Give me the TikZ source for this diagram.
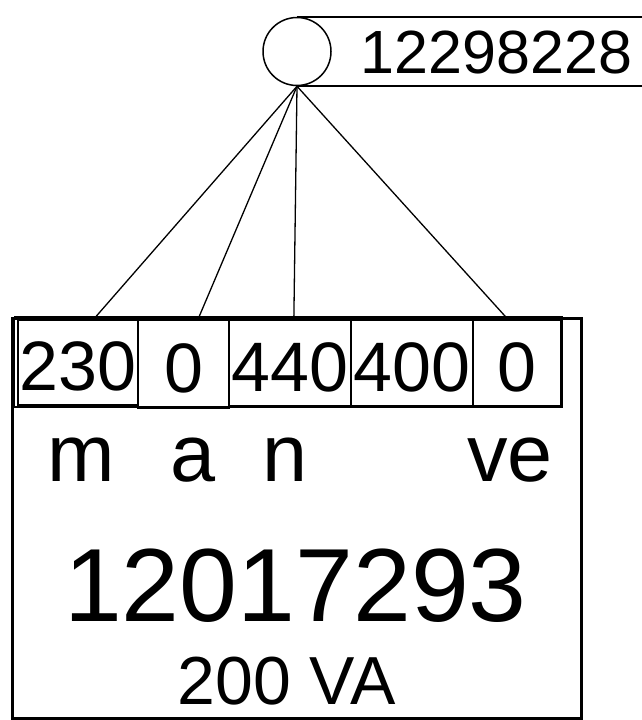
\documentclass[tikz,border=0pt]{standalone}
\usepackage{fontspec}
\setmainfont{Liberation Sans}
\newcommand{\fsz}[1]{\fontsize{#1}{#1}\selectfont}
\tikzset{
    cell/.style={draw, line width=2pt, anchor=north west, inner sep=0pt, text height=57pt, font=\fsz{70}},
    wire/.style={line width=1.3pt},
    tagbox/.style={draw, line width=1.3pt, anchor=west, minimum height=69pt, inner xsep=63pt, inner ysep=0pt, text height=45pt, font=\fsz{61}},
}
\begin{document}
\begin{tikzpicture}[x=1pt,y=-1pt]
        \useasboundingbox (0,0) rectangle (642,720);
        %% tag and hub
        \node[tagbox] (tag) at (297,51.5) {12298228};
        \node[draw, circle, fill=white, line width=1.5pt, minimum size=68pt, inner sep=0pt] (hub) at (297,51.5) {};
        %% unit box with its frame
        \node[draw, line width=3pt, anchor=north west, minimum width=569pt, minimum height=399.5pt, inner sep=0pt] (unit) at (10.5,317) {};
        \draw[line width=1.4pt] (14.5,317) rectangle (562,407);
        %% cells
        \foreach \name/\x/\w/\h/\val in {cell1/17/120pt/85pt/230, cell2/137/91pt/88pt/0, cell3/228/122pt/86pt/440, cell4/350/122pt/86pt/400, cell5/472/88pt/86pt/0}
            \node[cell, minimum width=\w, minimum height=\h] (\name) at (\x,319) {\val};
        %% letters under the cells
        \node[anchor=base, font=\fsz{81}] (lm) at (81,481) {m};
        \node[anchor=base, font=\fsz{81}] (la) at (193,481) {a};
        \node[anchor=base, font=\fsz{81}] (ln) at (285,481) {n};
        \node[anchor=base, font=\fsz{81}] (lve) at (510,481) {ve};
        %% number and rating
        \node[anchor=base, font=\fsz{104}] (num) at (295.5,621) {12017293};
        \node[anchor=base, font=\fsz{68}] (va) at (286.5,704) {200 VA};
        %% wires from the hub
        \foreach \c/\a in {cell1/70, cell2/72, cell3/85, cell5/102}
            \draw[wire] (hub.south) -- (\c.\a);
    \end{tikzpicture}
\end{document}
